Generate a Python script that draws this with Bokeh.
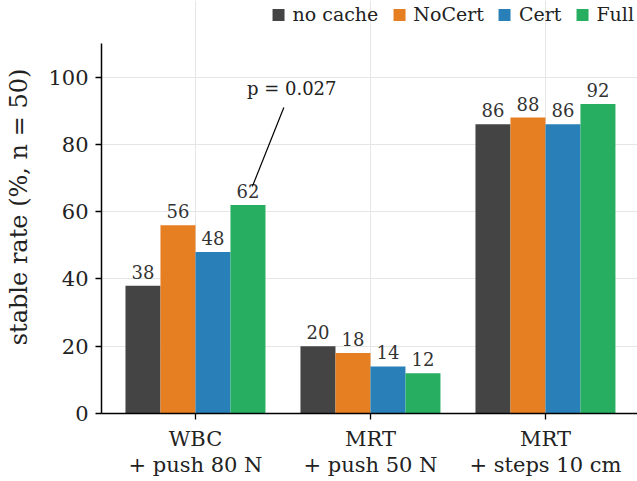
import numpy as np
from bokeh.plotting import figure
from bokeh.models import Legend, LegendItem, FixedTicker, Range1d, Label, ColumnDataSource
from bokeh.embed import file_html
from bokeh.resources import INLINE
from bokeh.core.properties import value

# ---- data ----
categories = ["WBC\n+ push 80 N", "MRT\n+ push 50 N", "MRT\n+ steps 10 cm"]
series_names = ["no cache", "NoCert", "Cert", "Full"]
no_cache = [38, 20, 86]
nocert = [56, 18, 88]
cert = [48, 14, 86]
full = [62, 12, 92]
y_ticks = [0, 20, 40, 60, 80, 100]
y_max = 110
p_value_label = "p = 0.027"
p_value_group = 0  # WBC group, Full bar

# ---- style ----
colors = ["#444444", "#e67e22", "#2980b9", "#27ae60"]
FONT = "DejaVu Serif"
bar_w = 0.2
top_room = 12.8  # extra headroom (in y units) used by the legend above the axes

p = figure(width=637, height=481, output_backend="svg", toolbar_location=None,
           x_range=Range1d(-0.537, 2.526), y_range=Range1d(0, y_max + top_room),
           min_border_left=101, min_border_right=0, min_border_top=0, min_border_bottom=68)
p.outline_line_color = None
p.background_fill_color = "white"

cat_x = np.arange(len(categories))
all_series = [no_cache, nocert, cert, full]
items = []
for i, (name, vals, col) in enumerate(zip(series_names, all_series, colors)):
    xs = cat_x + (i - 1.5) * bar_w
    src = ColumnDataSource(dict(x=xs, top=vals, lab=[str(v) for v in vals]))
    r = p.vbar(x="x", top="top", width=bar_w, source=src, fill_color=col, line_color=None)
    p.text(x="x", y="top", text="lab", source=src, text_align="center", text_baseline="bottom",
           y_offset=-7, text_font=value(FONT), text_font_size="18px", text_color="#333333")
    items.append(LegendItem(label=name, renderers=[r]))

# annotation
fx = p_value_group + 1.5 * bar_w
p.segment(x0=[fx + 0.025], y0=[full[p_value_group] + 5.5], x1=[fx + 0.205], y1=[91],
          line_color="black", line_width=1.2)
p.add_layout(Label(x=fx + 0.25, y=96.5, text=p_value_label, text_align="center",
                   text_baseline="middle", text_font=FONT, text_font_size="18px",
                   text_color="#222222"))

# axes
xa = p.xaxis[0]
xa.ticker = FixedTicker(ticks=list(cat_x))
xa.major_label_overrides = {int(i): c for i, c in zip(cat_x, categories)}
ya = p.yaxis[0]
ya.ticker = FixedTicker(ticks=y_ticks)
ya.bounds = (0, y_max)
ya.axis_label = "stable rate (%, n = 50)"
for ax in (xa, ya):
    ax.axis_line_color = "black"
    ax.axis_line_width = 1.5
    ax.major_tick_line_color = "black"
    ax.major_tick_line_width = 1.3
    ax.major_tick_out = 6
    ax.major_tick_in = 0
    ax.minor_tick_line_color = None
    ax.major_label_text_font = FONT
    ax.major_label_text_font_size = "21px"
    ax.major_label_text_color = "#222222"
    ax.major_label_standoff = 7
xa.major_label_text_line_height = 1.1
ya.axis_label_text_font = FONT
ya.axis_label_text_font_size = "24px"
ya.axis_label_text_font_style = "normal"
ya.axis_label_text_color = "#222222"
ya.axis_label_standoff = 12

p.xgrid.grid_line_color = "#e6e6e6"
p.ygrid.grid_line_color = "#e6e6e6"
p.xgrid.bounds = (0, y_max)
p.xgrid.grid_line_width = 1
p.ygrid.grid_line_width = 1

legend = Legend(items=items, orientation="horizontal", location="top_right",
                glyph_width=15, glyph_height=15, label_standoff=7, spacing=13,
                padding=0, margin=3, border_line_color=None, background_fill_alpha=0,
                label_text_font=FONT, label_text_font_size="19px", label_text_color="#222222")
p.add_layout(legend, "center")

open("out.html", "w").write(file_html(p, INLINE))
